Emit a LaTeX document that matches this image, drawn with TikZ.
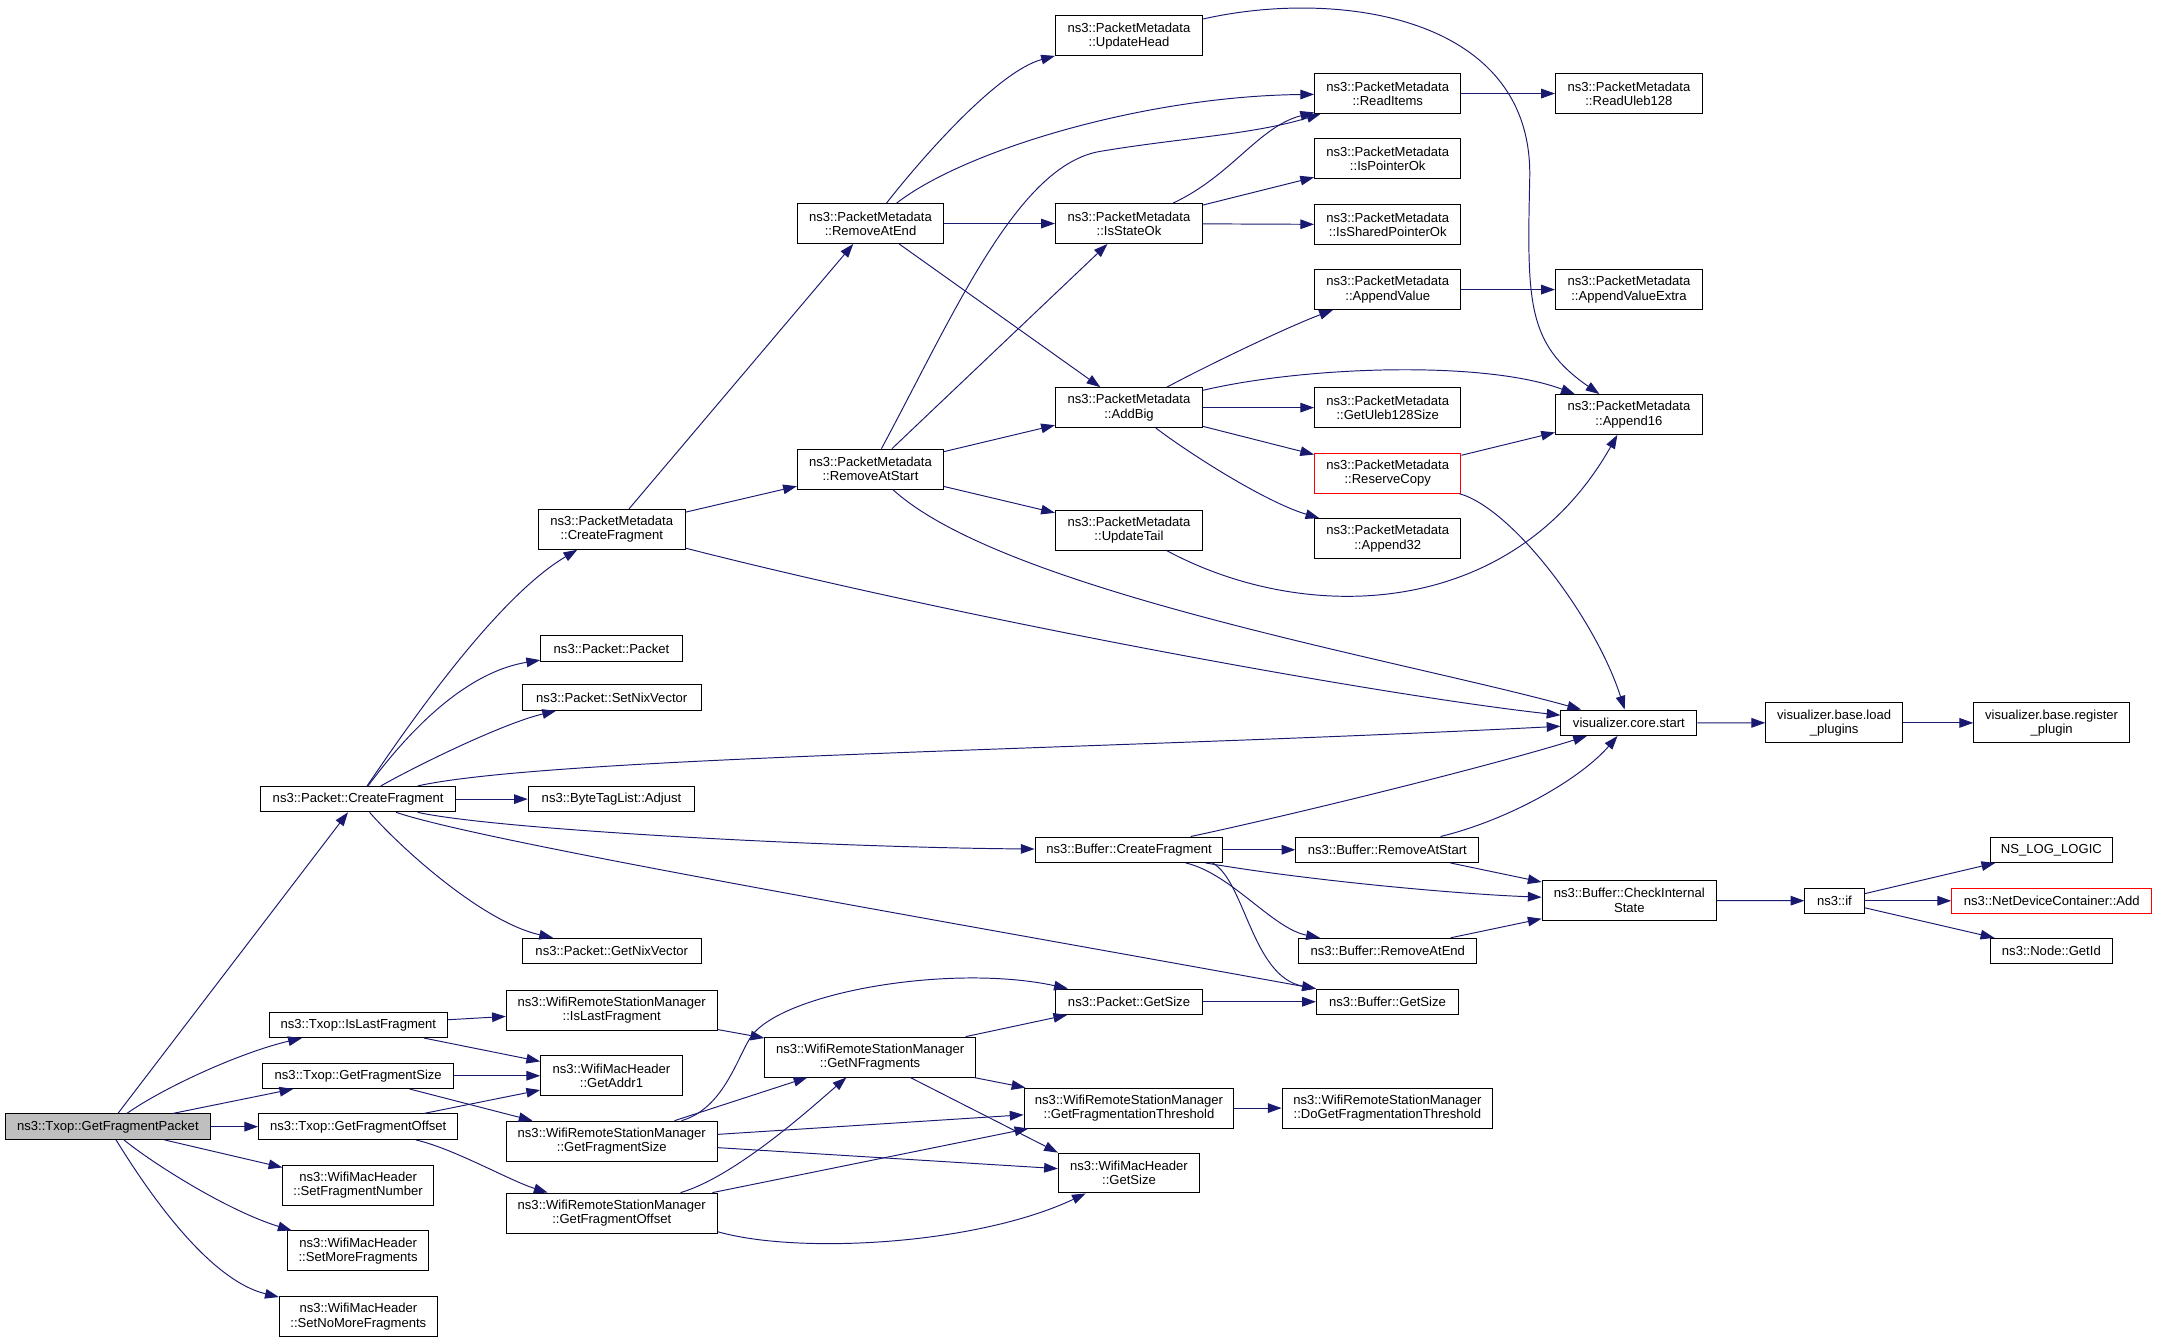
\documentclass[tikz,border=0pt]{standalone}
\usepackage{fontspec}
\setmainfont{Liberation Sans}
\usepackage{xcolor}
\definecolor{edgeblue}{RGB}{25,25,112}
\definecolor{rootgray}{RGB}{191,191,191}
\definecolor{warnred}{RGB}{255,0,0}
\usepackage{tikz}
\usetikzlibrary{arrows.meta}

\begin{document}
\begin{tikzpicture}[x=1pt, y=-1pt,
    fn/.style={draw=black, line width=0.7pt, fill=white, inner sep=0pt, align=center,
               minimum height=18.5pt, font=\fontsize{9.5}{10.4}\selectfont},
    fntwo/.style={fn, minimum height=29pt},
    callarrow/.style={draw=edgeblue, line width=0.7pt, -{Triangle[length=10pt,width=7pt]}}]
    \useasboundingbox (0,0) rectangle (1568,974);

    % Caller
    \node[fn, fill=rootgray, minimum width=148.8pt] (gfp) at (78.4,819) {ns3::Txop::GetFragmentPacket};

    % First column
    \node[fn, minimum width=141.4pt] (pktCreateFrag) at (260.3,580.9) {ns3::Packet::CreateFragment};
    \node[fn, minimum width=129.8pt] (txopIsLast) at (260.5,745) {ns3::Txop::IsLastFragment};
    \node[fn, minimum width=138.7pt] (txopSize) at (260.4,782) {ns3::Txop::GetFragmentSize};
    \node[fn, minimum width=144.8pt] (txopOffset) at (260.4,819) {ns3::Txop::GetFragmentOffset};
    \node[fntwo, minimum width=109.4pt] (macSetNumber) at (260.3,861.5) {ns3::WifiMacHeader\\::SetFragmentNumber};
    \node[fntwo, minimum width=102.7pt] (macSetMore) at (260.3,909.3) {ns3::WifiMacHeader\\::SetMoreFragments};
    \node[fntwo, minimum width=115pt] (macSetNoMore) at (260.5,957) {ns3::WifiMacHeader\\::SetNoMoreFragments};

    % Second column
    \node[fntwo, minimum width=106.5pt] (metaCreateFrag) at (444.7,384.8) {ns3::PacketMetadata\\::CreateFragment};
    \node[fn, minimum width=103pt] (pktPacket) at (444.5,471.5) {ns3::Packet::Packet};
    \node[fn, minimum width=129.8pt] (pktSetNix) at (444.7,507.1) {ns3::Packet::SetNixVector};
    \node[fn, minimum width=121pt] (tagAdjust) at (444.5,580.9) {ns3::ByteTagList::Adjust};
    \node[fn, minimum width=129.8pt] (pktGetNix) at (444.7,691.3) {ns3::Packet::GetNixVector};
    \node[fntwo, minimum width=153.3pt] (wrsmIsLast) at (444.7,734.5) {ns3::WifiRemoteStationManager\\::IsLastFragment};
    \node[fntwo, minimum width=103pt] (macAddr1) at (444.5,782) {ns3::WifiMacHeader\\::GetAddr1};
    \node[fntwo, minimum width=153.3pt] (wrsmSize) at (444.7,829.5) {ns3::WifiRemoteStationManager\\::GetFragmentSize};
    \node[fntwo, minimum width=153.3pt] (wrsmOffset) at (444.7,881.8) {ns3::WifiRemoteStationManager\\::GetFragmentOffset};

    % Third column
    \node[fntwo, minimum width=106.4pt] (metaRemEnd) at (632.8,162.5) {ns3::PacketMetadata\\::RemoveAtEnd};
    \node[fntwo, minimum width=106.4pt] (metaRemStart) at (632.8,341) {ns3::PacketMetadata\\::RemoveAtStart};
    \node[fntwo, minimum width=153pt] (wrsmNFrag) at (632.5,768.4) {ns3::WifiRemoteStationManager\\::GetNFragments};

    % Fourth column
    \node[fntwo, minimum width=107pt] (metaUpdHead) at (820.7,26.1) {ns3::PacketMetadata\\::UpdateHead};
    \node[fntwo, minimum width=107pt] (metaStateOk) at (820.7,162.5) {ns3::PacketMetadata\\::IsStateOk};
    \node[fntwo, minimum width=107pt] (metaAddBig) at (820.7,296.3) {ns3::PacketMetadata\\::AddBig};
    \node[fntwo, minimum width=107pt] (metaUpdTail) at (820.7,385.5) {ns3::PacketMetadata\\::UpdateTail};
    \node[fn, minimum width=136.6pt] (bufCreateFrag) at (820.7,617.7) {ns3::Buffer::CreateFragment};
    \node[fn, minimum width=107pt] (pktGetSize) at (820.7,728.2) {ns3::Packet::GetSize};
    \node[fntwo, minimum width=152.6pt] (wrsmThresh) at (820.7,805.5) {ns3::WifiRemoteStationManager\\::GetFragmentationThreshold};
    \node[fntwo, minimum width=102.7pt] (macGetSize) at (820.7,852.7) {ns3::WifiMacHeader\\::GetSize};

    % Fifth column
    \node[fntwo, minimum width=106.4pt] (metaReadItems) at (1008.8,68) {ns3::PacketMetadata\\::ReadItems};
    \node[fntwo, minimum width=106.4pt] (metaPtrOk) at (1008.8,115.5) {ns3::PacketMetadata\\::IsPointerOk};
    \node[fntwo, minimum width=106.4pt] (metaSharedOk) at (1008.8,163.3) {ns3::PacketMetadata\\::IsSharedPointerOk};
    \node[fntwo, minimum width=106.4pt] (metaAppValue) at (1008.8,210.5) {ns3::PacketMetadata\\::AppendValue};
    \node[fntwo, minimum width=106.4pt] (metaUleb) at (1008.8,296.3) {ns3::PacketMetadata\\::GetUleb128Size};
    \node[fntwo, draw=warnred, minimum width=106.4pt] (metaReserve) at (1008.8,344) {ns3::PacketMetadata\\::ReserveCopy};
    \node[fntwo, minimum width=106.4pt] (metaApp32) at (1008.8,391.5) {ns3::PacketMetadata\\::Append32};
    \node[fn, minimum width=133pt] (bufRemStart) at (1008.5,617.7) {ns3::Buffer::RemoveAtStart};
    \node[fn, minimum width=129.7pt] (bufRemEnd) at (1008.8,691.3) {ns3::Buffer::RemoveAtEnd};
    \node[fn, minimum width=103.3pt] (bufGetSize) at (1008.6,728.2) {ns3::Buffer::GetSize};
    \node[fntwo, minimum width=153pt] (wrsmDoThresh) at (1008.5,805.5) {ns3::WifiRemoteStationManager\\::DoGetFragmentationThreshold};

    % Sixth column
    \node[fntwo, minimum width=106.8pt] (metaReadUleb) at (1184.1,68) {ns3::PacketMetadata\\::ReadUleb128};
    \node[fntwo, minimum width=106.8pt] (metaAppExtra) at (1184.1,210.5) {ns3::PacketMetadata\\::AppendValueExtra};
    \node[fntwo, minimum width=106.8pt] (metaApp16) at (1184.1,301.3) {ns3::PacketMetadata\\::Append16};
    \node[fn, minimum width=98.8pt] (vizStart) at (1184.1,525.4) {visualizer.core.start};
    \node[fntwo, minimum width=126.8pt] (bufCheck) at (1184.4,654.5) {ns3::Buffer::CheckInternal\\State};

    % Last two columns
    \node[fntwo, minimum width=99.5pt] (vizLoad) at (1333.3,525.5) {visualizer.base.load\\\_plugins};
    \node[fn, minimum width=43pt] (nsIf) at (1333.5,654.8) {ns3::if};
    \node[fntwo, minimum width=113.3pt] (vizRegister) at (1491.4,525.5) {visualizer.base.register\\\_plugin};
    \node[fn, minimum width=89.2pt] (logLogic) at (1491.2,617.7) {NS\_LOG\_LOGIC};
    \node[fn, draw=warnred, minimum width=145.5pt] (ndcAdd) at (1491.5,654.8) {ns3::NetDeviceContainer::Add};
    \node[fn, minimum width=89.2pt] (nodeGetId) at (1491.2,691.3) {ns3::Node::GetId};

    % Calls from Txop::GetFragmentPacket
    \draw[callarrow] (gfp) -- (pktCreateFrag);
    \draw[callarrow] (gfp) .. controls (120,790) and (175,765) .. (txopIsLast);
    \draw[callarrow] (gfp) -- (txopSize);
    \draw[callarrow] (gfp) -- (txopOffset);
    \draw[callarrow] (gfp) -- (macSetNumber);
    \draw[callarrow] (gfp) .. controls (110,845) and (165,880) .. (macSetMore);
    \draw[callarrow] (gfp) .. controls (105,862) and (150,930) .. (macSetNoMore);

    % Calls from Packet::CreateFragment
    \draw[callarrow] (pktCreateFrag) .. controls (295,530) and (360,435) .. (metaCreateFrag);
    \draw[callarrow] (pktCreateFrag) .. controls (285,548) and (330,490) .. (pktPacket);
    \draw[callarrow] (pktCreateFrag) .. controls (300,558) and (365,526) .. (pktSetNix);
    \draw[callarrow] (pktCreateFrag) .. controls (400,550) and (800,545) .. (vizStart);
    \draw[callarrow] (pktCreateFrag) -- (tagAdjust);
    \draw[callarrow] (pktCreateFrag) .. controls (360,603) and (600,616) .. (bufCreateFrag);
    \draw[callarrow] (pktCreateFrag) .. controls (350,612) and (700,672) .. (bufGetSize);
    \draw[callarrow] (pktCreateFrag) .. controls (290,615) and (350,670) .. (pktGetNix);

    % Calls from PacketMetadata::CreateFragment
    \draw[callarrow] (metaCreateFrag) -- (metaRemEnd);
    \draw[callarrow] (metaCreateFrag) -- (metaRemStart);
    \draw[callarrow] (metaCreateFrag) .. controls (700,450) and (1000,505) .. (vizStart);

    % Calls from RemoveAtEnd and RemoveAtStart
    \draw[callarrow] (metaRemEnd) .. controls (670,115) and (725,52) .. (metaUpdHead);
    \draw[callarrow] (metaRemEnd) .. controls (700,110) and (830,70) .. (metaReadItems);
    \draw[callarrow] (metaRemEnd) -- (metaStateOk);
    \draw[callarrow] (metaRemEnd) -- (metaAddBig);
    \draw[callarrow] (metaRemStart) .. controls (695,225) and (740,120) .. (800,110)
                     .. controls (860,100) and (910,98) .. (metaReadItems);
    \draw[callarrow] (metaRemStart) -- (metaStateOk);
    \draw[callarrow] (metaRemStart) -- (metaAddBig);
    \draw[callarrow] (metaRemStart) -- (metaUpdTail);
    \draw[callarrow] (metaRemStart) .. controls (730,430) and (1020,480) .. (vizStart);

    % Calls from IsStateOk and AddBig
    \draw[callarrow] (metaStateOk) .. controls (895,128) and (915,92) .. (metaReadItems);
    \draw[callarrow] (metaStateOk) -- (metaPtrOk);
    \draw[callarrow] (metaStateOk) -- (metaSharedOk);
    \draw[callarrow] (metaAddBig) .. controls (875,267) and (935,238) .. (metaAppValue);
    \draw[callarrow] (metaAddBig) .. controls (950,266) and (1080,262) .. (metaApp16);
    \draw[callarrow] (metaAddBig) -- (metaUleb);
    \draw[callarrow] (metaAddBig) -- (metaReserve);
    \draw[callarrow] (metaAddBig) .. controls (865,330) and (920,365) .. (metaApp32);

    % Calls into Append16 and the visualizer
    \draw[callarrow] (metaUpdHead) .. controls (970,-8) and (1115,10) .. (1112,130)
                     .. controls (1110,220) and (1110,250) .. (metaApp16);
    \draw[callarrow] (metaUpdTail) .. controls (950,455) and (1100,450) .. (metaApp16);
    \draw[callarrow] (metaReserve) -- (metaApp16);
    \draw[callarrow] (metaReserve) .. controls (1100,370) and (1160,450) .. (vizStart);
    \draw[callarrow] (metaReadItems) -- (metaReadUleb);
    \draw[callarrow] (metaAppValue) -- (metaAppExtra);
    \draw[callarrow] (vizStart) -- (vizLoad);
    \draw[callarrow] (vizLoad) -- (vizRegister);

    % Calls from Buffer::CreateFragment
    \draw[callarrow] (bufCreateFrag) .. controls (950,590) and (1090,555) .. (vizStart);
    \draw[callarrow] (bufCreateFrag) -- (bufRemStart);
    \draw[callarrow] (bufCreateFrag) .. controls (950,640) and (1060,650) .. (bufCheck);
    \draw[callarrow] (bufCreateFrag) .. controls (895,635) and (925,675) .. (bufRemEnd);
    \draw[callarrow] (bufCreateFrag.-9) .. controls (905,640) and (910,710) .. (bufGetSize);
    \draw[callarrow] (bufRemStart) .. controls (1100,595) and (1150,565) .. (vizStart);
    \draw[callarrow] (bufRemStart) -- (bufCheck);
    \draw[callarrow] (bufRemEnd) -- (bufCheck);
    \draw[callarrow] (bufCheck) -- (nsIf);
    \draw[callarrow] (nsIf) -- (logLogic);
    \draw[callarrow] (nsIf) -- (ndcAdd);
    \draw[callarrow] (nsIf) -- (nodeGetId);

    % Fragment size and offset chain
    \draw[callarrow] (txopIsLast) -- (wrsmIsLast);
    \draw[callarrow] (txopIsLast) -- (macAddr1);
    \draw[callarrow] (txopSize) -- (macAddr1);
    \draw[callarrow] (txopSize) -- (wrsmSize);
    \draw[callarrow] (txopOffset) -- (macAddr1);
    \draw[callarrow] (txopOffset) .. controls (330,835) and (370,858) .. (wrsmOffset);
    \draw[callarrow] (wrsmIsLast) -- (wrsmNFrag);
    \draw[callarrow] (wrsmSize) .. controls (525,806) and (535,771.5) .. (545,755)
                     .. controls (565,722) and (690,700) .. (pktGetSize);
    \draw[callarrow] (wrsmSize) -- (wrsmNFrag);
    \draw[callarrow] (wrsmSize) -- (wrsmThresh);
    \draw[callarrow] (wrsmSize) -- (macGetSize);
    \draw[callarrow] (wrsmOffset) .. controls (535,855) and (590,805) .. (wrsmNFrag);
    \draw[callarrow] (wrsmOffset) -- (wrsmThresh);
    \draw[callarrow] (wrsmOffset.-10) .. controls (580,912) and (710,905) .. (macGetSize);
    \draw[callarrow] (wrsmNFrag) -- (pktGetSize);
    \draw[callarrow] (wrsmNFrag) -- (wrsmThresh);
    \draw[callarrow] (wrsmNFrag) -- (macGetSize.north west);
    \draw[callarrow] (pktGetSize) -- (bufGetSize);
    \draw[callarrow] (wrsmThresh) -- (wrsmDoThresh);
\end{tikzpicture}
\end{document}
